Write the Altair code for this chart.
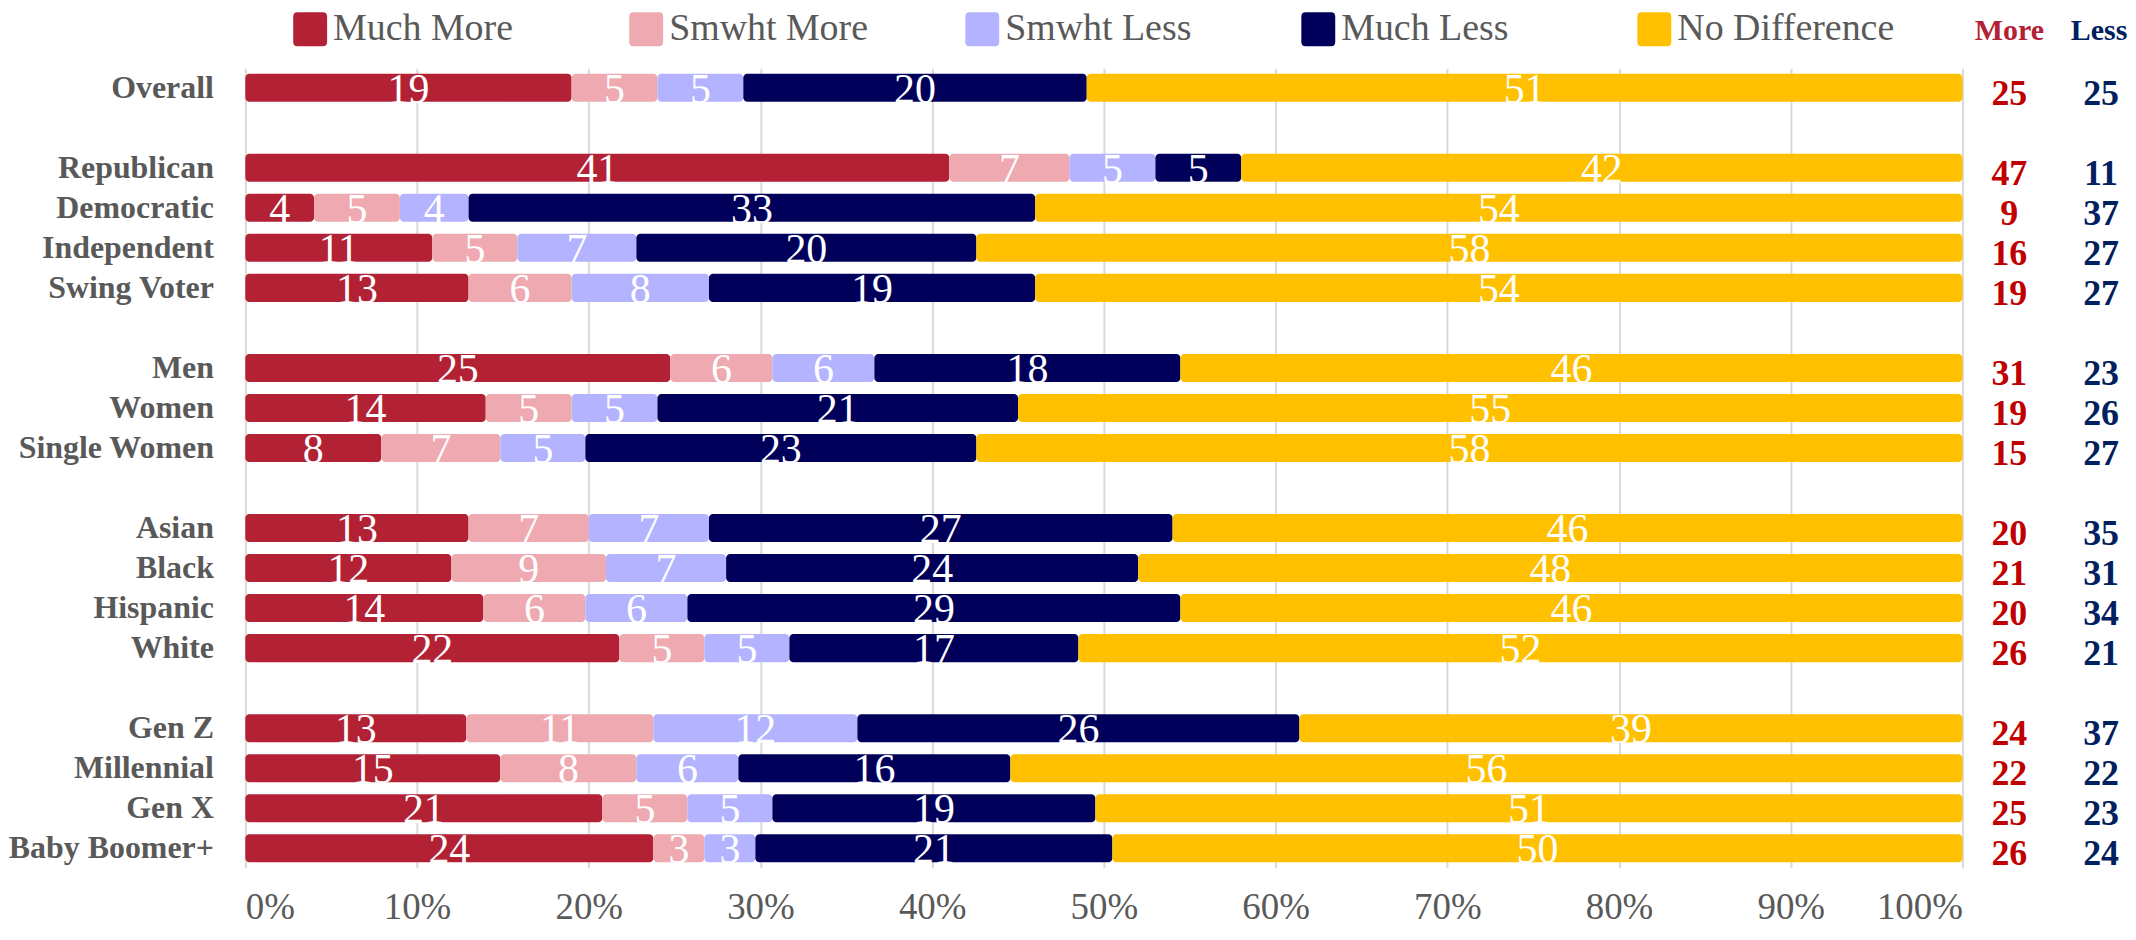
import altair as alt
import pandas as pd

rows = ["Overall", "Republican", "Democratic", "Independent", "Swing Voter",
        "Men", "Women", "Single Women", "Asian", "Black", "Hispanic", "White",
        "Gen Z", "Millennial", "Gen X", "Baby Boomer+"]
y_order = ["Overall", "_gap1", "Republican", "Democratic", "Independent", "Swing Voter",
           "_gap2", "Men", "Women", "Single Women", "_gap3", "Asian", "Black", "Hispanic",
           "White", "_gap4", "Gen Z", "Millennial", "Gen X", "Baby Boomer+"]

much_more = [19, 41, 4, 11, 13, 25, 14, 8, 13, 12, 14, 22, 13, 15, 21, 24]
smwht_more = [5, 7, 5, 5, 6, 6, 5, 7, 7, 9, 6, 5, 11, 8, 5, 3]
smwht_less = [5, 5, 4, 7, 8, 6, 5, 5, 7, 7, 6, 5, 12, 6, 5, 3]
much_less = [20, 5, 33, 20, 19, 18, 21, 23, 27, 24, 29, 17, 26, 16, 19, 21]
no_diff = [51, 42, 54, 58, 54, 46, 55, 58, 46, 48, 46, 52, 39, 56, 51, 50]
more_tot = [25, 47, 9, 16, 19, 31, 19, 15, 20, 21, 20, 26, 24, 22, 25, 26]
less_tot = [25, 11, 37, 27, 27, 23, 26, 27, 35, 31, 34, 21, 37, 22, 23, 24]

series_names = ["Much More", "Smwht More", "Smwht Less", "Much Less", "No Difference"]
series_colors = ["#B22234", "#EEAAB0", "#B3B3FF", "#00005A", "#FFC000"]
headers = ["More", "Less"]
x_ticks = [0, 0.1, 0.2, 0.3, 0.4, 0.5, 0.6, 0.7, 0.8, 0.9, 1.0]

FONT = "Liberation Serif"
W = 1722
H = 802

series_vals = [much_more, smwht_more, smwht_less, much_less, no_diff]
recs = []
for i, r in enumerate(rows):
    for j, s in enumerate(series_names):
        recs.append({"row": r, "series": s, "order": j, "value": series_vals[j][i]})
df = pd.DataFrame(recs)
df_tot = pd.DataFrame({"row": rows, "more": more_tot, "less": less_tot})

sym_path = ("M-0.75,-1 L0.75,-1 Q1,-1 1,-0.75 L1,0.75 Q1,1 0.75,1 "
            "L-0.75,1 Q-1,1 -1,0.75 L-1,-0.75 Q-1,-1 -0.75,-1 Z")

y_enc = alt.Y("row:N",
              scale=alt.Scale(domain=y_order, paddingInner=0.3, paddingOuter=0.14),
              axis=alt.Axis(title=None, ticks=False, domain=False, labelPadding=32,
                            labelFont=FONT, labelFontSize=32, labelFontWeight="bold",
                            labelColor="#595959", grid=False, labelLimit=500,
                            labelExpr="substring(datum.label,0,4)=='_gap' ? '' : datum.label"))

base = alt.Chart(df).transform_stack(
    stack="value", groupby=["row"], as_=["v0", "v1"], offset="normalize",
    sort=[alt.SortField("order", order="ascending")]
).transform_calculate(mid="(datum.v0 + datum.v1) / 2")

bars = base.mark_bar(cornerRadius=4).encode(
    y=y_enc,
    x=alt.X("v0:Q", scale=alt.Scale(domain=[0, 1], nice=False),
            axis=alt.Axis(title=None, format=".0%", values=x_ticks, ticks=False, domain=False,
                          labelFont=FONT, labelFontSize=37, labelColor="#595959",
                          labelPadding=22, gridColor="#D9D9D9", gridWidth=2)),
    x2="v1:Q",
    color=alt.Color("series:N",
                    scale=alt.Scale(domain=series_names, range=series_colors),
                    legend=alt.Legend(title=None, orient="none", legendX=46, legendY=-58,
                                      direction="horizontal", columns=5, gridAlign="all",
                                      columnPadding=77, symbolType=sym_path, symbolSize=1156,
                                      symbolStrokeWidth=0, symbolOpacity=1,
                                      labelFont=FONT, labelFontSize=38, labelColor="#595959",
                                      labelOffset=4, labelLimit=500)),
)

seg_text = base.mark_text(color="white", font=FONT, fontSize=42, baseline="middle", dy=2).encode(
    x="mid:Q", y=alt.Y("row:N"), text="value:Q"
)

more_text = alt.Chart(df_tot).mark_text(font=FONT, fontSize=36, fontWeight="bold",
                                        color="#C00000", baseline="middle", dy=6).encode(
    x=alt.value(W + 47), y=alt.Y("row:N"), text="more:Q"
)
less_text = alt.Chart(df_tot).mark_text(font=FONT, fontSize=36, fontWeight="bold",
                                        color="#002060", baseline="middle", dy=6).encode(
    x=alt.value(W + 139), y=alt.Y("row:N"), text="less:Q"
)
hdr_more = alt.Chart(pd.DataFrame({"h": [headers[0]]})).mark_text(
    font=FONT, fontSize=30, fontWeight="bold", color="#B22234", baseline="middle").encode(
    x=alt.value(W + 47), y=alt.value(-37), text="h:N")
hdr_less = alt.Chart(pd.DataFrame({"h": [headers[1]]})).mark_text(
    font=FONT, fontSize=30, fontWeight="bold", color="#002060", baseline="middle").encode(
    x=alt.value(W + 137), y=alt.value(-37), text="h:N")

chart = alt.layer(bars, seg_text, more_text, less_text, hdr_more, hdr_less).properties(
    width=W, height=H,
    padding={"left": 0, "top": 1, "right": 0, "bottom": 0},
    background="white",
).configure_view(stroke=None)

chart.save("out.html", embed_options={"renderer": "svg", "actions": False})
